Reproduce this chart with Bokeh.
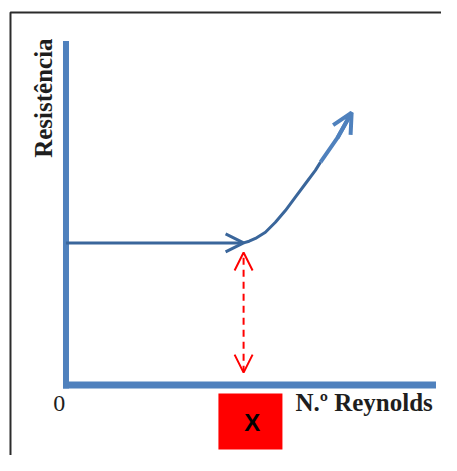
import numpy as np
from bokeh.plotting import figure
from bokeh.models import Range1d, Arrow, OpenHead
from bokeh.core.properties import value
from bokeh.embed import file_html
from bokeh.resources import INLINE

# ---- data (schematic units: Reynolds 0..10, Resistência 0..10) ----
axis_x_end = 10.0
axis_y_end = 10.0
laminar_level = 4.13          # constant resistance before transition
critical_re = 4.8             # transition Reynolds number
curve_re = [4.80, 4.95, 5.12, 5.39, 5.66, 5.93, 6.20, 6.47, 6.74, 6.88]
curve_res = [4.13, 4.18, 4.26, 4.44, 4.73, 5.07, 5.46, 5.85, 6.24, 6.48]
tip_re = [6.88, 7.34, 7.72]
tip_res = [6.48, 7.19, 7.92]
marker_top = 3.85
marker_bottom = 0.36
box_left, box_right = 4.12, 5.85
box_top, box_bottom = -0.25, -1.875
y_label = "Resistência"
x_label = "N.º Reynolds"
zero_label = "0"
box_label = "X"

AXIS_BLUE = "#4F81BD"
DARK_BLUE = "#3A669B"
RED = "#FF0000"
TXT = "#1E1E1E"

p = figure(width=441, height=455, output_backend="svg", toolbar_location=None,
           tools="", x_range=Range1d(-1.770, 10.149), y_range=Range1d(-2.049, 11.177),
           x_axis_location=None, y_axis_location=None, min_border=0,
           outline_line_color=None, background_fill_color="white",
           border_fill_color="white")
p.grid.visible = False

# frame border (top & left visible)
p.line([-1.5, -1.5, 10.5], [-2.4, 10.83, 10.83], line_color="#2b2b2b", line_width=2)

# axes
p.line([-0.08, axis_x_end], [0, 0], line_color=AXIS_BLUE, line_width=7)
p.line([0, 0], [-0.1, axis_y_end], line_color=AXIS_BLUE, line_width=6)

# laminar line with arrow
p.add_layout(Arrow(x_start=0, y_start=laminar_level, x_end=critical_re, y_end=laminar_level,
                   line_color=DARK_BLUE, line_width=3,
                   end=OpenHead(size=18, line_color=DARK_BLUE, line_width=3)))

# rising curve
p.line(curve_re, curve_res, line_color=DARK_BLUE, line_width=3, line_join="round")
p.line(tip_re, tip_res, line_color=AXIS_BLUE, line_width=4, line_join="round")
p.add_layout(Arrow(x_start=tip_re[-2], y_start=tip_res[-2], x_end=tip_re[-1], y_end=tip_res[-1],
                   line_color=AXIS_BLUE, line_width=4,
                   end=OpenHead(size=20, line_color=AXIS_BLUE, line_width=4)))

# red dashed double arrow
p.add_layout(Arrow(x_start=critical_re, y_start=marker_bottom, x_end=critical_re, y_end=marker_top,
                   line_color=RED, line_width=2, line_dash="7 5",
                   start=OpenHead(size=18, line_color=RED, line_width=2),
                   end=OpenHead(size=18, line_color=RED, line_width=2)))

# red box with X
p.quad(left=[box_left], right=[box_right], top=[box_top], bottom=[box_bottom],
       fill_color=RED, line_color=None)
p.text(x=[(box_left + box_right) / 2 + 0.05], y=[-1.08], text=[box_label],
       text_font=value("Liberation Sans"), text_font_style="bold", text_font_size="24px",
       text_align="center", text_baseline="alphabetic", text_color="black")

# labels
p.text(x=[-0.61], y=[8.34], text=[y_label], angle=np.pi / 2,
       text_font=value("Liberation Serif"), text_font_style="bold", text_font_size="25px",
       text_align="center", text_baseline="alphabetic", text_color=TXT)
p.text(x=[-0.18], y=[-0.54], text=[zero_label],
       text_font=value("Liberation Serif"), text_font_size="24px",
       text_align="center", text_baseline="alphabetic", text_color=TXT)
p.text(x=[6.20], y=[-0.51], text=[x_label],
       text_font=value("Liberation Serif"), text_font_style="bold", text_font_size="25px",
       text_align="left", text_baseline="alphabetic", text_color=TXT)

open("out.html", "w").write(file_html(p, INLINE))
